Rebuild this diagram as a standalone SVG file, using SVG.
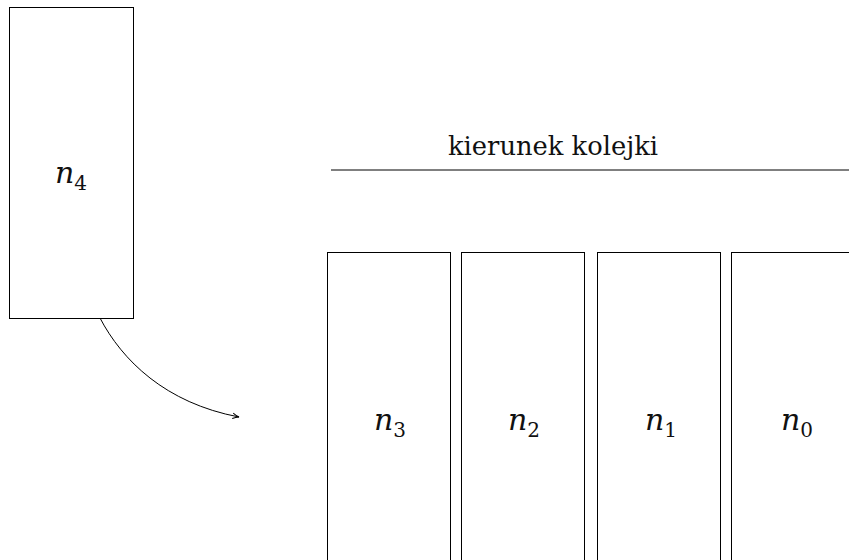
<svg xmlns="http://www.w3.org/2000/svg" width="849" height="560" viewBox="0 0 849 560">
  <style>
    .box { fill: none; stroke: #000; stroke-width: 1; }
    .lbl { font-family: "DejaVu Serif", serif; font-style: italic; font-size: 30px; fill: #111; text-anchor: middle; }
    .sub { font-style: normal; font-size: 20px; }
    .title { font-family: "DejaVu Serif", serif; font-size: 26px; fill: #111; }
    .conn { fill: none; stroke: #000; stroke-width: 1; }
  </style>
  <defs>
    <marker id="tip" viewBox="0 0 10 10" refX="9" refY="5" markerWidth="8" markerHeight="8" markerUnits="userSpaceOnUse" orient="auto">
      <path d="M1,1.5 Q5,4 9,5 Q5,6 1,8.5" fill="none" stroke="#000" stroke-width="1.2"/>
    </marker>
  </defs>

  <rect width="849" height="560" fill="#fff"/>

  <!-- queue direction caption -->
  <g id="caption">
    <text class="title" x="448" y="155" textLength="210" lengthAdjust="spacingAndGlyphs">kierunek kolejki</text>
    <line class="conn" x1="331" y1="170" x2="849" y2="170"/>
  </g>

  <!-- incoming element -->
  <g id="n4">
    <rect class="box" x="9.5" y="7.5" width="124" height="311"/>
    <text class="lbl" x="71" y="183">n<tspan class="sub" dy="7">4</tspan></text>
  </g>

  <!-- queued elements -->
  <g id="n3">
    <rect class="box" x="327.5" y="252.5" width="123" height="320"/>
    <text class="lbl" x="390" y="430">n<tspan class="sub" dy="7">3</tspan></text>
  </g>
  <g id="n2">
    <rect class="box" x="461.5" y="252.5" width="123" height="320"/>
    <text class="lbl" x="524" y="430">n<tspan class="sub" dy="7">2</tspan></text>
  </g>
  <g id="n1">
    <rect class="box" x="597.5" y="252.5" width="123" height="320"/>
    <text class="lbl" x="661" y="430">n<tspan class="sub" dy="7">1</tspan></text>
  </g>
  <g id="n0">
    <rect class="box" x="731.5" y="252.5" width="123" height="320"/>
    <text class="lbl" x="797" y="430">n<tspan class="sub" dy="7">0</tspan></text>
  </g>

  <g id="connectors">
    <path class="conn" d="M100,318 C122,360 165,403 239,417" marker-end="url(#tip)"/>
  </g>
</svg>
